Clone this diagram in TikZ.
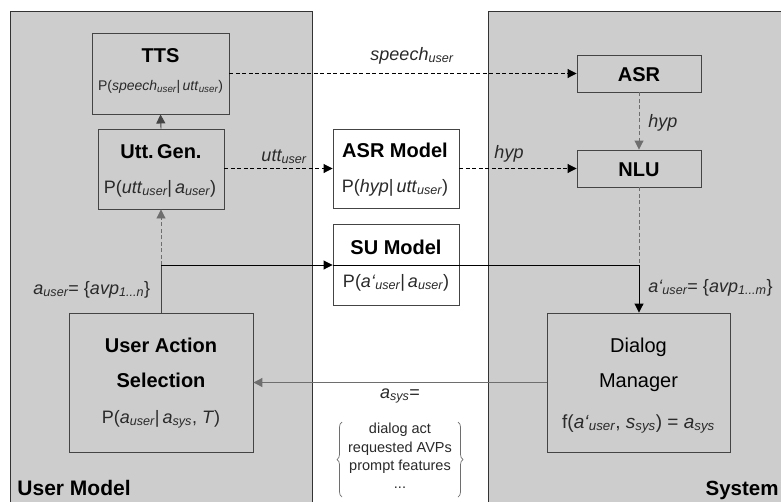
\documentclass[tikz,border=0pt]{standalone}
\usepackage{fontspec}
\setmainfont{Liberation Sans}
\usetikzlibrary{arrows.meta,decorations.pathreplacing}
\newcommand{\lsub}[1]{\textsubscript{\itshape #1}}
\definecolor{panelgray}{HTML}{CDCDCD}
\definecolor{edgegray}{HTML}{444444}
\definecolor{linegray}{HTML}{6E6E6E}
\definecolor{txtgray}{HTML}{2A2A2A}
\begin{document}
\begin{tikzpicture}[x=1pt,y=-1pt,
  box/.style={draw=edgegray,line width=0.9pt,fill=panelgray,inner sep=0pt},
  wbox/.style={draw=edgegray,line width=0.9pt,fill=white,inner sep=0pt},
  ttl/.style={anchor=base,font=\fontsize{20}{24}\selectfont\bfseries,text=black,inner sep=0pt},
  sub/.style={anchor=base,font=\fontsize{18}{22}\selectfont,text=txtgray,inner sep=0pt},
  lbl/.style={anchor=base,font=\fontsize{18}{22}\selectfont\itshape,text=txtgray,inner sep=0pt},
  lst/.style={anchor=base,font=\fontsize{14.5}{18}\selectfont,text=txtgray,inner sep=0pt},
  arr/.style={-{Triangle[length=9pt,width=9pt]}},
  dsh/.style={dash pattern=on 4pt off 2.5pt},
  line width=0.9pt]
\useasboundingbox (0,0) rectangle (781,501);
\clip (0,0) rectangle (781,501);
% panels
\fill[white] (0,0) rectangle (781,501);
\draw[fill=panelgray,draw=black!80] (10,520) -- (10,11) -- (312,11) -- (312,520);
\draw[fill=panelgray,draw=black!80] (488,520) -- (488,11) -- (800,11) -- (800,520);
% boxes
\node[box,minimum width=137pt,minimum height=81pt] (tts) at (160.5,73.5) {};
\node[box,minimum width=126pt,minimum height=80pt] (ugen) at (161,169) {};
\node[wbox,minimum width=126pt,minimum height=79pt] (asrm) at (396,168.5) {};
\node[wbox,minimum width=126pt,minimum height=81pt] (sum) at (396,265) {};
\node[box,minimum width=124pt,minimum height=37pt] (asr) at (639,73.5) {};
\node[box,minimum width=124pt,minimum height=37pt] (nlu) at (639,168.5) {};
\node[box,minimum width=183pt,minimum height=139pt] (dm) at (638.5,382.5) {};
\node[box,minimum width=184pt,minimum height=139pt] (uas) at (161,382.5) {};
% box texts
\node[ttl] (tts-t) at (160.5,62) {TTS};
\node[sub,font=\fontsize{14}{17}\selectfont] (tts-p) at (160.5,90) {P(\textit{speech}\lsub{user}|\,\textit{utt}\lsub{user})};
\node[ttl] (ugen-t) at (161,158) {Utt.\,Gen.};
\node[sub] (ugen-p) at (160,193) {P(\textit{utt}\lsub{user}|\,\textit{a}\lsub{user})};
\node[ttl] (asrm-t) at (395,157) {ASR Model};
\node[sub] (asrm-p) at (395,192) {P(\textit{hyp}|\,\textit{utt}\lsub{user})};
\node[ttl] (asr-t) at (639,81) {ASR};
\node[ttl] (nlu-t) at (639,176) {NLU};
\node[ttl] (sum-t) at (396,254) {SU Model};
\node[sub] (sum-p) at (396,287) {P(\textit{a‘}\lsub{user}|\,\textit{a}\lsub{user})};
\node[ttl] (uas-t1) at (161,352) {User Action};
\node[ttl] (uas-t2) at (161,387) {Selection};
\node[sub] (uas-p) at (161,423) {P(\textit{a}\lsub{user}|\,\textit{a}\lsub{sys},\ \textit{T})};
\node[ttl,font=\fontsize{20}{24}\selectfont] (dm-t1) at (638.5,352) {Dialog};
\node[ttl,font=\fontsize{20}{24}\selectfont] (dm-t2) at (638.5,387) {Manager};
\node[sub,font=\fontsize{19}{22}\selectfont] (dm-p) at (638.5,428) {f(\textit{a‘}\lsub{user}, \textit{s}\lsub{sys}) = \textit{a}\lsub{sys}};
% junctions
\coordinate (j1) at (161,265);
\coordinate (j2) at (639,265);
% connectors
\draw[arr,draw=edgegray] (ugen.north) -- (tts.south);
\draw[arr,dsh] (tts.east) -- (asr.west);
\draw[arr,dsh] (asrm.west -| ugen.east) -- (asrm.west);
\draw[arr,dsh] (asrm.east) -- (nlu.west);
\draw[arr,dsh,draw=linegray] (asr.south) -- (nlu.north);
\draw[dsh,draw=linegray] (nlu.south) -- (j2);
\draw[arr] (j2) -- (dm.north -| j2);
\draw[draw=edgegray] (uas.north) -- (j1);
\draw[arr,dsh,draw=linegray] (j1) -- (ugen.south);
\draw[arr] (j1) -- (sum.west);
\draw (sum.west) -- (j2);
\draw[arr,draw=linegray,line width=1.1pt] (dm.west) -- (uas.east);
% labels
\node[lbl] (l-speech) at (412,60) {speech\lsub{user}};
\node[lbl] (l-utt) at (284,161) {utt\lsub{user}};
\node[lbl] (l-hyp1) at (509,158) {hyp};
\node[lbl,anchor=base west] (l-hyp2) at (648,127) {hyp};
\node[lbl,anchor=base west] (l-auser) at (33,294) {a\lsub{user}\upshape = \{\itshape avp\lsub{1...n}\upshape\}};
\node[lbl,anchor=base west] (l-auser2) at (648,292) {a‘\lsub{user}\upshape = \{\itshape avp\lsub{1...m}\upshape\}};
\node[lbl] (l-asys) at (400,398) {a\lsub{sys}\upshape =};
\node[lst] (ls1) at (400,433) {dialog act};
\node[lst] (ls2) at (400,452) {requested AVPs};
\node[lst] (ls3) at (400,470) {prompt features};
\node[lst] (ls4) at (400,488) {...};
\draw[draw=linegray,line width=0.7pt,decorate,decoration={brace,amplitude=5pt}] (342,497) -- (342,422);
\draw[draw=linegray,line width=0.7pt,decorate,decoration={brace,amplitude=5pt}] (458,422) -- (458,497);
% panel titles
\node[anchor=base west,font=\fontsize{21}{24}\selectfont\bfseries,inner sep=0pt] (um) at (17,495) {User Model};
\node[anchor=base east,font=\fontsize{20.5}{24}\selectfont\bfseries,inner sep=0pt] (sys) at (779,495) {System};
\end{tikzpicture}
\end{document}
